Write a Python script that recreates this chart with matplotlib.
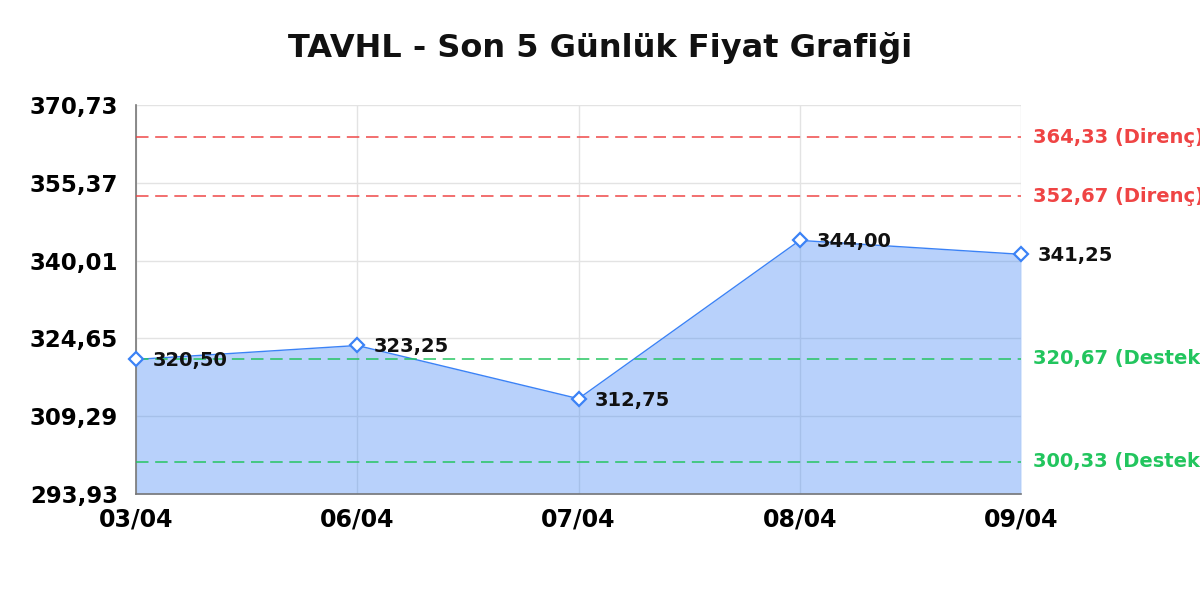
import matplotlib
matplotlib.use("Agg")
import matplotlib.pyplot as plt
import matplotlib.transforms as mtransforms

plt.rcParams["font.family"] = ["DejaVu Sans"]

# Data
dates = ["03/04", "06/04", "07/04", "08/04", "09/04"]
prices = [320.50, 323.25, 312.75, 344.00, 341.25]
price_labels = ["320,50", "323,25", "312,75", "344,00", "341,25"]
resistance = [364.33, 352.67]
resistance_labels = ["364,33 (Direnç)", "352,67 (Direnç)"]
support = [320.67, 300.33]
support_labels = ["320,67 (Destek)", "300,33 (Destek)"]
y_ticks = [293.93, 309.29, 324.65, 340.01, 355.37, 370.73]
y_tick_labels = ["293,93", "309,29", "324,65", "340,01", "355,37", "370,73"]
title = "TAVHL - Son 5 Günlük Fiyat Grafiği"

BLUE = "#3b82f6"
RED = "#ef4444"
GREEN = "#22c55e"

fig = plt.figure(figsize=(12, 6), dpi=100)
ax = fig.add_axes([136/1200, 1-494/600, (1021-136)/1200, (494-105)/600])

x = list(range(len(dates)))
ymin, ymax = y_ticks[0], y_ticks[-1]

ax.fill_between(x, prices, ymin, color=BLUE, alpha=0.36, linewidth=0, zorder=2)
ax.plot(x, prices, color=BLUE, linewidth=1.0, zorder=3)
ax.plot(x, prices, linestyle="none", marker="D", markersize=7.5,
        markerfacecolor="white", markeredgecolor=BLUE, markeredgewidth=1.6,
        zorder=5, clip_on=False)

for xi, yi, lab in zip(x, prices, price_labels):
    ax.annotate(lab, (xi, yi), xytext=(12, -1), textcoords="offset points",
                ha="left", va="center", fontsize=14, fontweight="bold",
                color="#111111", zorder=6, annotation_clip=False)

blend = mtransforms.blended_transform_factory(ax.transAxes, ax.transData)
for val, lab in zip(resistance, resistance_labels):
    ax.axhline(val, color=RED, linestyle=(0, (7.5, 4)), linewidth=1.2, alpha=0.9, zorder=4)
    ax.text(1 + 12/885, val, lab, transform=blend, ha="left", va="center",
            fontsize=14, fontweight="bold", color=RED, clip_on=False)
for val, lab in zip(support, support_labels):
    ax.axhline(val, color=GREEN, linestyle=(0, (7.5, 4)), linewidth=1.2, alpha=0.9, zorder=4)
    ax.text(1 + 12/885, val, lab, transform=blend, ha="left", va="center",
            fontsize=14, fontweight="bold", color=GREEN, clip_on=False)

ax.set_xlim(0, len(dates) - 1)
ax.set_ylim(ymin, ymax)
ax.set_xticks(x)
ax.set_xticklabels(dates, fontsize=17, fontweight="bold")
ax.set_yticks(y_ticks)
ax.set_yticklabels(y_tick_labels, fontsize=16.5, fontweight="bold")
ax.tick_params(axis="x", length=0, pad=10)
ax.tick_params(axis="y", length=0, pad=13)

ax.grid(True, color="#e3e3e3", linewidth=1.0, zorder=0)
ax.set_axisbelow(True)
for s in ["top", "right"]:
    ax.spines[s].set_visible(False)
for s in ["left", "bottom"]:
    ax.spines[s].set_color("#777777")
    ax.spines[s].set_linewidth(1.2)

fig.text(0.5, 1 - 48/600, title, ha="center", va="center",
         fontsize=23, fontweight="bold", color="#111111")

fig.savefig("out.png", dpi=100)
